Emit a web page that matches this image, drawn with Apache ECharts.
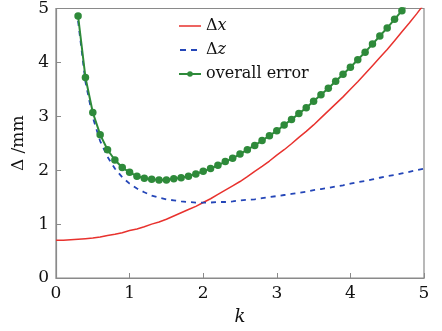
<!DOCTYPE html>
<html>
<head>
<meta charset="utf-8">
<script src="https://cdn.jsdelivr.net/npm/echarts@6/dist/echarts.min.js"></script>
<style>html,body{margin:0;padding:0;background:#fff}#c{width:442px;height:331px}</style>
</head>
<body>
<div id="c"></div>
<script>
// k values (step 0.1)
var kAll = [0.0,0.1,0.2,0.3,0.4,0.5,0.6,0.7,0.8,0.9,1.0,1.1,1.2,1.3,1.4,1.5,1.6,1.7,1.8,1.9,2.0,2.1,2.2,2.3,2.4,2.5,2.6,2.7,2.8,2.9,3.0,3.1,3.2,3.3,3.4,3.5,3.6,3.7,3.8,3.9,4.0,4.1,4.2,4.3,4.4,4.5,4.6,4.7,4.8,4.9,5.0];
// Δx for k = 0 .. 5
var deltaX = [0.70,0.70,0.71,0.72,0.73,0.74,0.76,0.79,0.81,0.84,0.88,0.91,0.95,1.00,1.04,1.09,1.15,1.21,1.27,1.33,1.40,1.47,1.55,1.63,1.71,1.79,1.88,1.98,2.07,2.17,2.28,2.38,2.49,2.61,2.72,2.84,2.97,3.10,3.23,3.36,3.50,3.64,3.79,3.94,4.09,4.24,4.40,4.57,4.73,4.90,5.08];
// Δz for k = 0.3 .. 5
var kZ = kAll.slice(3);
var deltaZ = [4.77,3.64,2.98,2.54,2.25,2.03,1.87,1.75,1.66,1.59,1.53,1.49,1.46,1.44,1.42,1.41,1.40,1.40,1.40,1.41,1.41,1.42,1.44,1.45,1.46,1.48,1.50,1.52,1.54,1.56,1.58,1.60,1.63,1.65,1.67,1.70,1.72,1.75,1.78,1.80,1.83,1.86,1.89,1.91,1.94,1.97,2.00,2.03];
// overall error for k = 0.3 .. 4.8
var kO = kAll.slice(3, 49);
var overall = [4.86,3.72,3.07,2.66,2.38,2.19,2.05,1.96,1.89,1.85,1.83,1.82,1.82,1.84,1.86,1.89,1.93,1.98,2.03,2.09,2.16,2.22,2.30,2.38,2.46,2.55,2.64,2.73,2.84,2.94,3.05,3.16,3.28,3.40,3.52,3.65,3.78,3.91,4.05,4.19,4.34,4.49,4.64,4.80,4.96,5.13];
var xTicks = [0,1,2,3,4,5];
var yTicks = [0,1,2,3,4,5];

function pairs(ks, vs){ return ks.map(function(k,i){ return [k, vs[i]]; }); }

var FONT = 'DejaVu Serif';
var solidIcon = 'path://M0,0L0.01,0M0,6.2H22V7.8H0ZM22,14L21.99,14';
var dashIcon = 'path://M0,0L0.01,0M1,6.1H7V7.9H1ZM12,6.1H18V7.9H12ZM22,14L21.99,14';
var markIcon = 'path://M0,0L0.01,0M0,6H22V8H0ZM13.8,7A2.8,2.8 0 1 1 8.2,7A2.8,2.8 0 1 1 13.8,7ZM22,14L21.99,14';
var chart = echarts.init(document.getElementById('c'), null, {renderer:'canvas'});
chart.setOption({
  animation: false,
  backgroundColor: '#fff',
  grid: {left:56, right:18, top:8, bottom:49, show:true, borderColor:'#8a8a8a', borderWidth:1.2},
  legend: {
    orient:'vertical', left:174, top:13, itemWidth:22, itemHeight:14, itemGap:8,
    textStyle:{fontFamily:FONT, fontSize:16, color:'#111',
      rich:{i:{fontFamily:FONT, fontSize:16, fontStyle:'italic', color:'#111'}}},
    formatter:function(n){
      if(n==='Δx') return 'Δ{i|x}';
      if(n==='Δz') return 'Δ{i|z}';
      return n;
    },
    data:[
      {name:'Δx', icon:solidIcon, itemStyle:{color:'#e8322e'}},
      {name:'Δz', icon:dashIcon, itemStyle:{color:'#2446b8'}},
      {name:'overall error', icon:markIcon, itemStyle:{color:'#2e8a3a'}}
    ]
  },
  xAxis: {
    type:'value', min:xTicks[0], max:xTicks[xTicks.length-1], interval:1,
    name:'k', nameLocation:'middle', nameGap:30,
    nameTextStyle:{fontFamily:FONT, fontSize:18, fontStyle:'italic', color:'#111'},
    axisLine:{lineStyle:{color:'#8a8a8a', width:1.2}},
    axisTick:{inside:true, length:5, lineStyle:{color:'#8a8a8a'}},
    axisLabel:{fontFamily:FONT, fontSize:17, color:'#111', margin:7},
    splitLine:{show:false}
  },
  yAxis: {
    type:'value', min:yTicks[0], max:yTicks[yTicks.length-1], interval:1,
    name:'Δ /mm', nameLocation:'middle', nameGap:23, nameRotate:90,
    nameTextStyle:{fontFamily:FONT, fontSize:17, color:'#111'},
    axisLine:{lineStyle:{color:'#8a8a8a', width:1.2}},
    axisTick:{inside:true, length:5, lineStyle:{color:'#8a8a8a'}},
    axisLabel:{fontFamily:FONT, fontSize:17, color:'#111', margin:7},
    splitLine:{show:false}
  },
  series: [
    {name:'Δx', type:'line', data:pairs(kAll, deltaX), showSymbol:false, symbol:'none',
      lineStyle:{color:'#e8322e', width:1.5}, itemStyle:{color:'#e8322e'}, clip:true, z:2},
    {name:'Δz', type:'line', data:pairs(kZ, deltaZ), showSymbol:false, symbol:'none',
      lineStyle:{color:'#2446b8', width:1.8, type:[5,5]}, itemStyle:{color:'#2446b8'}, clip:true, z:3},
    {name:'overall error', type:'line', data:pairs(kO, overall), symbol:'circle', symbolSize:7.5,
      lineStyle:{color:'#2e8a3a', width:2}, itemStyle:{color:'#2e8a3a'}, clip:true, z:4}
  ]
});
</script>
</body>
</html>
